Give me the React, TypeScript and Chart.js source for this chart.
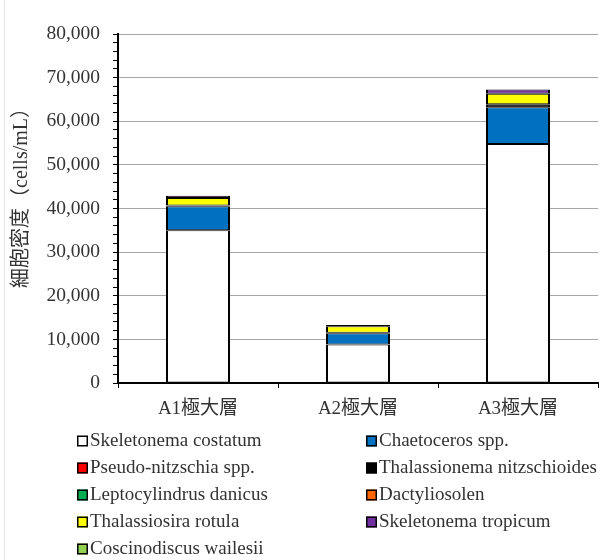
import React, { useEffect, useRef } from "react";
import { Chart, registerables } from "chart.js";

Chart.register(...registerables);

const categories = ["A1極大層", "A2極大層", "A3極大層"];

const seriesNames = [
  "Skeletonema costatum",
  "Chaetoceros spp.",
  "Pseudo-nitzschia spp.",
  "Thalassionema nitzschioides",
  "Leptocylindrus danicus",
  "Dactyliosolen",
  "Thalassiosira rotula",
  "Skeletonema tropicum",
  "Coscinodiscus wailesii",
];

const skeletonemaCostatum = [35000, 8800, 54800];
const chaetoceros = [5500, 2600, 8400];
const pseudoNitzschia = [0, 0, 0];
const thalassionema = [200, 100, 700];
const leptocylindrus = [0, 0, 0];
const dactyliosolen = [0, 0, 0];
const thalassiosiraRotula = [1700, 1500, 2400];
const skeletonemaTropicum = [500, 300, 1000];
const coscinodiscus = [0, 0, 0];

const seriesValues = [
  skeletonemaCostatum,
  chaetoceros,
  pseudoNitzschia,
  thalassionema,
  leptocylindrus,
  dactyliosolen,
  thalassiosiraRotula,
  skeletonemaTropicum,
  coscinodiscus,
];

const seriesColors = [
  "#FFFFFF",
  "#0070C0",
  "#FF0000",
  "#000000",
  "#00B050",
  "#FF6600",
  "#FFFF00",
  "#7030A0",
  "#92D050",
];

const yMin = 0;
const yMax = 80000;
const yMinorStep = 2000;
const yMajorStep = 10000;
const yAxisTitle = "細胞密度（cells/mL）";

const FONT = '"Liberation Serif", "Noto Sans CJK JP", serif';
const TEXT_COLOR = "#333333";

const legendPlugin = {
  id: "twoColumnLegend",
  afterDraw(chart: any) {
    const ctx = chart.ctx;
    const colX = [77, 366];
    const top = 441;
    const rowH = 27;
    const box = 11;
    ctx.save();
    ctx.font = "19px " + FONT;
    ctx.textBaseline = "middle";
    ctx.textAlign = "left";
    chart.data.datasets.forEach((ds: any, i: number) => {
      const col = i % 2;
      const row = Math.floor(i / 2);
      const x = colX[col];
      const y = top + row * rowH;
      ctx.fillStyle = ds.backgroundColor;
      ctx.fillRect(x, y - box / 2, box, box);
      ctx.strokeStyle = "#000000";
      ctx.lineWidth = 1.5;
      ctx.strokeRect(x + 0.75, y - box / 2 + 0.75, box - 1.5, box - 1.5);
      ctx.fillStyle = TEXT_COLOR;
      ctx.fillText(ds.label, x + box + 2, y);
    });
    ctx.restore();
  },
};

const yTitlePlugin = {
  id: "yTitle",
  afterDraw(chart: any) {
    const ctx = chart.ctx;
    ctx.save();
    ctx.translate(22, 193);
    ctx.rotate(-Math.PI / 2);
    ctx.font = "20px " + FONT;
    ctx.fillStyle = TEXT_COLOR;
    ctx.textAlign = "center";
    ctx.textBaseline = "middle";
    ctx.fillText(yAxisTitle, 0, 0);
    ctx.restore();
  },
};

export default function App() {
  const canvasRef = useRef<HTMLCanvasElement | null>(null);

  useEffect(() => {
    document.body.style.margin = "0";
    const canvas = canvasRef.current;
    if (!canvas) return;
    const chart = new Chart(canvas, {
      type: "bar",
      data: {
        labels: categories,
        datasets: seriesNames.map((name, i) => ({
          label: name,
          data: seriesValues[i],
          backgroundColor: seriesColors[i],
          borderColor: "#000000",
          borderWidth: { left: 2, right: 2, top: 1, bottom: 1 },
          borderSkipped: false,
          categoryPercentage: 1,
          barPercentage: 0.4,
          stack: "s",
        })),
      },
      options: {
        animation: false,
        responsive: false,
        devicePixelRatio: 1,
        layout: { padding: { top: 34, right: 2, left: 0, bottom: 0 } },
        plugins: {
          legend: { display: false },
          tooltip: { enabled: false },
        },
        scales: {
          x: {
            stacked: true,
            afterFit: (scale: any) => {
              scale.height = 177;
            },
            grid: {
              display: true,
              drawOnChartArea: false,
              drawTicks: true,
              tickLength: 5,
              tickColor: "#000000",
              offset: true,
            },
            border: { display: true, color: "#000000", width: 2 },
            ticks: {
              color: TEXT_COLOR,
              font: { family: FONT, size: 19 },
              padding: 10,
              maxRotation: 0,
            },
          },
          y: {
            stacked: true,
            min: yMin,
            max: yMax,
            afterFit: (scale: any) => {
              scale.width = 118;
            },
            grid: {
              color: (c: any) =>
                c.tick && c.tick.value % yMajorStep === 0 && c.tick.value !== 0
                  ? "#A6A6A6"
                  : "rgba(0,0,0,0)",
              lineWidth: 1,
              drawTicks: true,
              tickLength: 5,
              tickColor: "#000000",
            },
            border: { display: true, color: "#000000", width: 2 },
            ticks: {
              stepSize: yMinorStep,
              autoSkip: false,
              color: TEXT_COLOR,
              font: { family: FONT, size: 19.5 },
              padding: 13,
              callback: (v: any) =>
                Number(v) % yMajorStep === 0 ? Number(v).toLocaleString("en-US") : "",
            },
          },
        },
      },
      plugins: [legendPlugin, yTitlePlugin],
    });
    return () => chart.destroy();
  }, []);

  return (
    <div style={{ position: "relative", width: 600, height: 560, background: "#FFFFFF" }}>
      <div
        style={{
          position: "absolute",
          left: 4,
          top: 0,
          width: 1,
          height: 560,
          background: "#E3E3E3",
        }}
      />
      <canvas ref={canvasRef} width={600} height={560} style={{ display: "block" }} />
    </div>
  );
}
